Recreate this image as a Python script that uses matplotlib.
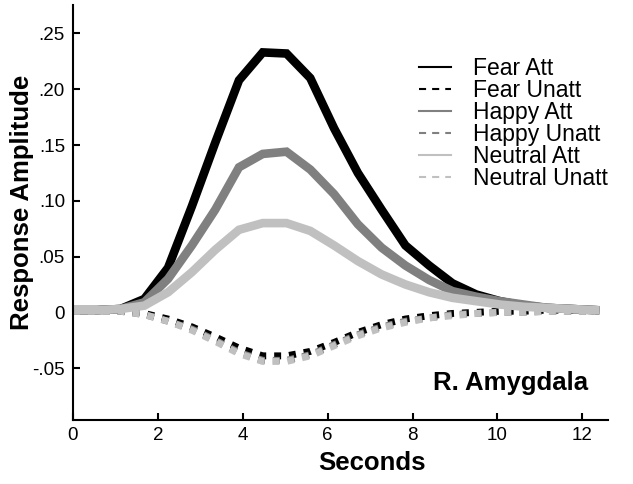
import matplotlib
matplotlib.use("Agg")
import matplotlib.pyplot as plt
from matplotlib.lines import Line2D

plt.rcParams["font.family"] = ["Liberation Sans", "DejaVu Sans"]

# time axis (seconds)
seconds = [0.0, 0.56, 1.12, 1.68, 2.24, 2.80, 3.35, 3.91, 4.47, 5.03, 5.59, 6.15,
           6.71, 7.27, 7.83, 8.39, 8.94, 9.50, 10.06, 10.62, 11.18, 11.74, 12.30]

# response amplitudes
fear_att = [0.002, 0.002, 0.003, 0.012, 0.040, 0.095, 0.152, 0.208, 0.233, 0.232,
            0.210, 0.165, 0.125, 0.092, 0.060, 0.042, 0.026, 0.016, 0.010, 0.006,
            0.004, 0.003, 0.002]
fear_unatt = [0.002, 0.002, 0.001, -0.001, -0.006, -0.013, -0.022, -0.032, -0.039,
              -0.039, -0.035, -0.027, -0.018, -0.011, -0.006, -0.003, -0.001, 0.000,
              0.001, 0.001, 0.002, 0.002, 0.002]
happy_att = [0.002, 0.002, 0.003, 0.009, 0.030, 0.060, 0.092, 0.130, 0.142, 0.144,
             0.128, 0.106, 0.079, 0.058, 0.042, 0.029, 0.019, 0.014, 0.010, 0.007,
             0.004, 0.003, 0.002]
happy_unatt = [0.001, 0.001, 0.001, -0.002, -0.008, -0.015, -0.025, -0.036, -0.043,
               -0.043, -0.038, -0.029, -0.020, -0.013, -0.008, -0.005, -0.002, -0.001,
               0.000, 0.000, 0.001, 0.001, 0.001]
neutral_att = [0.002, 0.002, 0.003, 0.006, 0.018, 0.036, 0.056, 0.074, 0.080, 0.080,
               0.073, 0.060, 0.046, 0.034, 0.025, 0.018, 0.013, 0.010, 0.007, 0.005,
               0.004, 0.003, 0.002]
neutral_unatt = [0.001, 0.001, 0.001, -0.002, -0.008, -0.016, -0.026, -0.037, -0.044,
                 -0.044, -0.039, -0.030, -0.021, -0.014, -0.009, -0.005, -0.003, -0.001,
                 0.000, 0.000, 0.001, 0.001, 0.001]

labels = ["Fear Att", "Fear Unatt", "Happy Att", "Happy Unatt", "Neutral Att", "Neutral Unatt"]
colors = ["#000000", "#000000", "#808080", "#808080", "#c0c0c0", "#c0c0c0"]
series = [fear_att, fear_unatt, happy_att, happy_unatt, neutral_att, neutral_unatt]

y_ticks = [-0.05, 0, 0.05, 0.10, 0.15, 0.20, 0.25]
y_ticklabels = ["-.05", "0", ".05", ".10", ".15", ".20", ".25"]
x_ticks = [0, 2, 4, 6, 8, 10, 12]

fig = plt.figure(figsize=(6.33, 4.84), dpi=100)
ax = fig.add_axes([0.1153, 0.1322, 0.845, 0.8575])

# even index = attended (solid), odd = unattended (square dashes)
for i, (vals, col) in enumerate(zip(series, colors)):
    if i % 2 == 0:
        ax.plot(seconds, vals, color=col, lw=6.2, solid_joinstyle="miter")
    else:
        ax.plot(seconds, vals, color=col, lw=5, linestyle=(0, (1.0, 1.15)))

ax.set_xlim(0, 12.6)
ax.set_ylim(-0.0965, 0.2755)
ax.set_xticks(x_ticks)
ax.set_yticks(y_ticks)
ax.set_yticklabels(y_ticklabels)

for side in ["top", "right"]:
    ax.spines[side].set_visible(False)
for side in ["left", "bottom"]:
    ax.spines[side].set_linewidth(1.5)
ax.tick_params(direction="in", length=5, width=1.5, labelsize=13.5)
ax.tick_params(axis="y", pad=5.8)
ax.tick_params(axis="x", pad=4.7)

ax.set_xlabel("Seconds", fontsize=18.5, fontweight="bold")
ax.xaxis.set_label_coords(0.559, -0.075)
ax.set_ylabel("Response Amplitude", fontsize=18.5, fontweight="bold")
ax.yaxis.set_label_coords(-0.073, 0.525)

ax.text(0.963, 0.089, "R. Amygdala", transform=ax.transAxes, ha="right", va="center",
        fontsize=18.5, fontweight="bold")

# thin legend handles
handles = []
for i, (lab, col) in enumerate(zip(labels, colors)):
    if i % 2 == 0:
        handles.append(Line2D([], [], color=col, lw=1.5))
    else:
        handles.append(Line2D([], [], color=col, lw=1.5, linestyle=(0, (3.4, 2.9))))
ax.legend(handles, labels, loc="upper left", bbox_to_anchor=(0.647, 0.875),
          frameon=False, fontsize=16.5, handlelength=1.4, handletextpad=0.95,
          labelspacing=-0.04, borderpad=0, borderaxespad=0)

fig.savefig("out.png", dpi=100)
